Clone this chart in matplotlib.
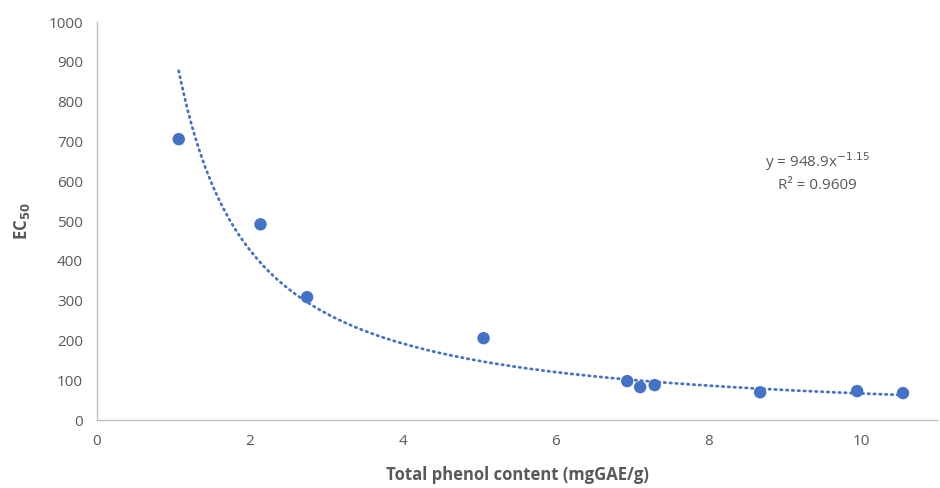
import numpy as np
import matplotlib.pyplot as plt

plt.rcParams['font.family'] = ['Open Sans', 'DejaVu Sans']

phenol = [1.07, 2.14, 2.75, 5.06, 6.94, 7.11, 7.30, 8.68, 9.95, 10.55]
ec50 = [706, 492, 309, 206, 98, 83, 88, 70, 73, 68]

# power trendline reported on the chart
coef_a = 948.9
coef_b = -1.15
r2 = 0.9609

x_ticks = [0, 2, 4, 6, 8, 10]
y_ticks = [0, 100, 200, 300, 400, 500, 600, 700, 800, 900, 1000]

blue = '#4472C4'
grey = '#595959'

fig = plt.figure(figsize=(9.4, 4.88), dpi=100)
ax = fig.add_axes([0.1032, 0.139, 0.894, 0.8156])

xs = np.linspace(min(phenol), max(phenol), 300)
ax.plot(xs, coef_a * xs ** coef_b, color=blue, lw=2, ls=(0, (0.5, 1.6)),
        dash_capstyle='round', zorder=2)
ax.scatter(phenol, ec50, s=80, color=blue, zorder=3, edgecolors='none')

ax.set_xlim(0, 11)
ax.set_ylim(0, 1000)
ax.set_xticks(x_ticks)
ax.set_yticks(y_ticks)
ax.tick_params(length=0, labelsize=11, colors=grey, pad=10)

for s in ['top', 'right']:
    ax.spines[s].set_visible(False)
for s in ['left', 'bottom']:
    ax.spines[s].set_color('#BFBFBF')
    ax.spines[s].set_linewidth(1)

ax.set_xlabel('Total phenol content (mgGAE/g)', fontsize=12, fontweight='bold',
              color=grey, labelpad=12)
ax.set_ylabel('EC$_{\\mathbf{50}}$', fontsize=12, fontweight='bold', color=grey,
              labelpad=12)

ax.text(9.43, 650, 'y = %.1fx$^{%.2f}$' % (coef_a, coef_b), ha='center', va='center',
        fontsize=11, color=grey)
ax.text(9.43, 590, 'R² = %.4f' % r2, ha='center', va='center', fontsize=11, color=grey)

fig.savefig('out.png', dpi=100)
